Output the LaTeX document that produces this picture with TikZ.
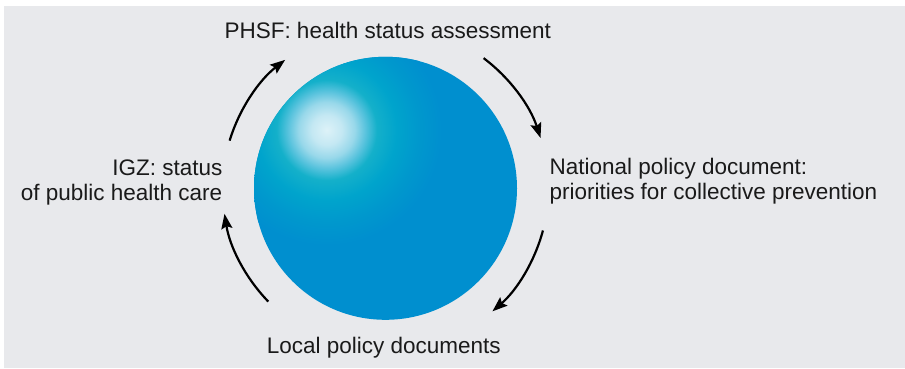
\documentclass[tikz,border=0pt]{standalone}
\usepackage{fontspec}
\setmainfont{Liberation Sans}
\usetikzlibrary{arrows.meta}
\definecolor{bggrey}{HTML}{E8E9EC}
\definecolor{ballblue}{HTML}{008FCF}
\definecolor{glowA}{HTML}{DDF2F8}
\definecolor{glowB}{HTML}{C4E8F3}
\definecolor{glowC}{HTML}{98D8EA}
\definecolor{glowD}{HTML}{5CC4DE}
\definecolor{glowE}{HTML}{14B0CA}
\definecolor{glowF}{HTML}{00A4CC}
\definecolor{glowG}{HTML}{0098CD}
\definecolor{txt}{HTML}{1A1A1A}
\pgfdeclareradialshading{ballglow}{\pgfpoint{0bp}{0bp}}{color(0bp)=(glowA); color(3.3bp)=(glowB); color(6.1bp)=(glowC); color(8.3bp)=(glowD); color(10.9bp)=(glowE); color(15.2bp)=(glowF); color(20bp)=(glowG); color(25bp)=(ballblue); color(50bp)=(ballblue)}
\begin{document}
\begin{tikzpicture}[x=1pt,y=1pt,
  lbl/.style={font=\fontsize{22.5}{25}\selectfont, text=txt, inner sep=0pt},
  cyc/.style={line width=2.2pt, draw=black, -{Stealth[length=15pt,width=11pt,inset=2.5pt]}}]
\useasboundingbox (0,0) rectangle (905,368);
\fill[white] (0,0) rectangle (905,368);
\fill[bggrey] (4,0) rectangle (905,362);
\coordinate (c) at (385.5,179.7);
\node[circle, minimum size=263pt, inner sep=0pt, fill=ballblue] (ball) at (c) {};
\begin{scope}
  \clip (c) circle (131.5);
  \shade[shading=ballglow] (326.7,238) circle (115);
\end{scope}
% cycle arrows
\coordinate (a1) at ([shift={(163:163)}]c);
\coordinate (a2) at ([shift={(53:163)}]c);
\coordinate (a3) at ([shift={(-15:163)}]c);
\coordinate (a4) at ([shift={(224:163)}]c);
\draw[cyc] (a1) arc[start angle=163, end angle=128, radius=163];
\draw[cyc] (a2) arc[start angle=53, end angle=18, radius=163];
\draw[cyc] (a3) arc[start angle=-15, end angle=-49, radius=163];
\draw[cyc] (a4) arc[start angle=224, end angle=189, radius=163];
% labels
\node[lbl, anchor=base west] (phsf) at (224.3,329.7) {PHSF: health status assessment};
\node[lbl, anchor=north west, align=left] (nat) at (549.3,209.7) {National policy document:\\priorities for collective prevention};
\node[lbl, anchor=north east, align=right] (igz) at (222.5,208.6) {IGZ: status\\of public health care};
\node[lbl, anchor=base west] (local) at (266.7,14.7) {Local policy documents};
\end{tikzpicture}
\end{document}
